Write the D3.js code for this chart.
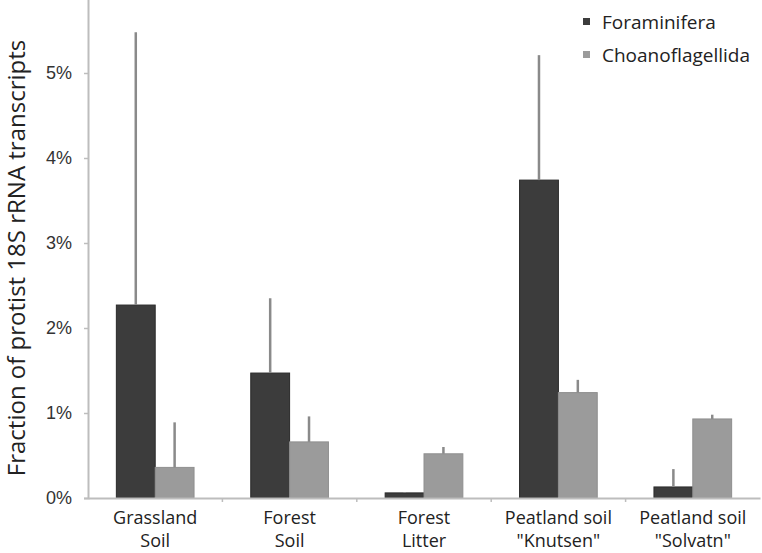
<!DOCTYPE html>
<html><head><meta charset="utf-8">
<script src="https://cdn.jsdelivr.net/npm/d3@7"></script>
<style>
html,body{margin:0;padding:0;background:#fff;}
svg{display:block;font-family:"Open Sans",sans-serif;}
</style></head>
<body>
<svg id="chart" width="762" height="553"></svg>
<script>
const categories = [["Grassland","Soil"],["Forest","Soil"],["Forest","Litter"],["Peatland soil","\"Knutsen\""],["Peatland soil","\"Solvatn\""]];
const seriesNames = ["Foraminifera","Choanoflagellida"];
const foraminifera = [2.27, 1.47, 0.06, 3.74, 0.13];
const foraminiferaErr = [3.21, 0.88, 0.01, 1.47, 0.21];
const choanoflagellida = [0.36, 0.66, 0.52, 1.24, 0.93];
const choanoflagellidaErr = [0.53, 0.30, 0.08, 0.15, 0.05];
const yTicks = [0,1,2,3,4,5];

const colors = ["#3c3c3c","#9b9b9b"];
const svg = d3.select("#chart");
const left = 88, right = 760, baseY = 498, perPct = 85;
const y = d3.scaleLinear().domain([0,6]).range([baseY, baseY - 6*perPct]);
const x0 = d3.scaleBand().domain(d3.range(categories.length)).range([left,right]).paddingInner(0).paddingOuter(0);
const x1 = d3.scaleBand().domain([0,1]).range([0, x0.bandwidth()]).paddingOuter(0.73).paddingInner(0);

const series = [
  {vals: foraminifera, err: foraminiferaErr},
  {vals: choanoflagellida, err: choanoflagellidaErr}
];

// y axis
const yAxis = d3.axisLeft(y).tickValues(yTicks).tickFormat(d => d + "%").tickSize(4).tickPadding(12);
const gy = svg.append("g").attr("transform",`translate(${left},0)`).call(yAxis);
gy.select(".domain").attr("stroke","#bdbdbd").attr("stroke-width",2);
gy.selectAll(".tick line").attr("stroke","#bdbdbd").attr("stroke-width",1.5);
gy.selectAll(".tick text").attr("fill","#333").style("font-size","18px");

// bars
series.forEach((s,si)=>{
  const g = svg.append("g");
  g.selectAll("rect").data(s.vals).join("rect")
    .attr("x",(d,i)=>x0(i)+x1(si))
    .attr("y",d=>y(d))
    .attr("width",x1.bandwidth())
    .attr("height",d=>baseY - y(d))
    .attr("fill",colors[si])
    .attr("stroke", si===0 ? "#2a2a2a" : "#8f8f8f")
    .attr("stroke-width",1);
  g.selectAll("line").data(s.vals).join("line")
    .attr("x1",(d,i)=>x0(i)+x1(si)+x1.bandwidth()/2)
    .attr("x2",(d,i)=>x0(i)+x1(si)+x1.bandwidth()/2)
    .attr("y1",d=>y(d))
    .attr("y2",(d,i)=>y(d + s.err[i]))
    .attr("stroke","#8a8a8a").attr("stroke-width",2.5);
});

// x axis
const xAxis = d3.axisBottom(x0).tickValues([]).tickSize(0);
const gx = svg.append("g").attr("transform",`translate(0,${baseY})`).call(xAxis);
gx.select(".domain").attr("stroke","#bdbdbd").attr("stroke-width",2);
gx.selectAll(".sep").data(d3.range(1,categories.length)).join("line")
  .attr("x1",d=>x0(d)).attr("x2",d=>x0(d)).attr("y1",0).attr("y2",4)
  .attr("stroke","#bdbdbd").attr("stroke-width",1.5);

// category labels (one text per line)
const lab = svg.append("g");
categories.forEach((c,i)=>{
  const cx = x0(i)+x0.bandwidth()/2;
  c.forEach((line,li)=>{
    lab.append("text").attr("text-anchor","middle").attr("fill","#222").style("font-size","18px")
      .attr("x", cx).attr("y", 524 + li*23).text(line);
  });
});

// y label
svg.append("text").attr("transform","translate(25,258) rotate(-90)").attr("text-anchor","middle")
  .attr("fill","#222").style("font-size","24px").text("Fraction of protist 18S rRNA transcripts");

// legend
const leg = svg.append("g");
seriesNames.forEach((n,i)=>{
  leg.append("rect").attr("x",583).attr("y",18+i*33).attr("width",7).attr("height",7).attr("fill",colors[i]);
  leg.append("text").attr("x",602).attr("y",29+i*33).attr("fill","#222").style("font-size","19px").text(n);
});
</script>
</body></html>
